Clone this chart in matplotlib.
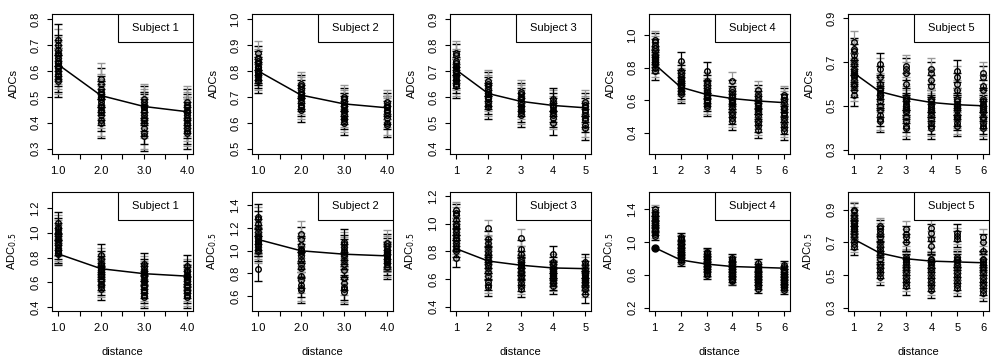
import matplotlib.pyplot as plt
from matplotlib.patches import Rectangle

plt.rcParams['font.family'] = ['Liberation Sans', 'DejaVu Sans']

# ---------- data: values ----------
# top row: ADCs, one list of point values per distance
adcs_1 = [
    [0.56, 0.57, 0.58, 0.59, 0.60, 0.61, 0.62, 0.62, 0.63, 0.63, 0.64, 0.65, 0.66, 0.67, 0.68, 0.70, 0.72],
    [0.40, 0.41, 0.43, 0.44, 0.45, 0.46, 0.47, 0.48, 0.49, 0.50, 0.50, 0.51, 0.52, 0.53, 0.55, 0.57],
    [0.35, 0.36, 0.38, 0.40, 0.41, 0.42, 0.43, 0.44, 0.45, 0.46, 0.46, 0.47, 0.48, 0.49],
    [0.36, 0.37, 0.38, 0.39, 0.40, 0.41, 0.42, 0.43, 0.44, 0.44, 0.45, 0.46, 0.47, 0.48],
]
adcs_2 = [
    [0.76, 0.77, 0.78, 0.79, 0.79, 0.80, 0.80, 0.81, 0.81, 0.82, 0.83, 0.84, 0.85, 0.87],
    [0.65, 0.66, 0.67, 0.68, 0.69, 0.70, 0.70, 0.71, 0.72, 0.73, 0.74, 0.75],
    [0.60, 0.61, 0.62, 0.63, 0.64, 0.65, 0.66, 0.67, 0.67, 0.68, 0.69, 0.70],
    [0.59, 0.60, 0.62, 0.63, 0.64, 0.65, 0.66, 0.66, 0.67, 0.68],
]
adcs_3 = [
    [0.64, 0.65, 0.66, 0.67, 0.68, 0.69, 0.70, 0.70, 0.71, 0.72, 0.73, 0.74, 0.76, 0.77],
    [0.56, 0.57, 0.58, 0.59, 0.60, 0.61, 0.61, 0.62, 0.63, 0.64, 0.65, 0.66],
    [0.53, 0.54, 0.55, 0.56, 0.57, 0.58, 0.59, 0.60, 0.61, 0.62],
    [0.50, 0.52, 0.53, 0.54, 0.55, 0.56, 0.57, 0.58, 0.59],
    [0.48, 0.49, 0.51, 0.52, 0.53, 0.54, 0.55, 0.56, 0.57, 0.58],
]
adcs_4 = [
    [0.78, 0.80, 0.82, 0.83, 0.84, 0.85, 0.86, 0.87, 0.88, 0.90, 0.92, 0.94, 0.96, 0.97],
    [0.64, 0.65, 0.66, 0.68, 0.69, 0.70, 0.71, 0.72, 0.73, 0.74, 0.76, 0.78, 0.84],
    [0.56, 0.57, 0.59, 0.60, 0.62, 0.63, 0.64, 0.65, 0.66, 0.68, 0.70, 0.72, 0.78],
    [0.47, 0.49, 0.51, 0.53, 0.55, 0.57, 0.58, 0.59, 0.60, 0.62, 0.63, 0.65, 0.67, 0.72],
    [0.42, 0.44, 0.46, 0.48, 0.50, 0.52, 0.54, 0.55, 0.57, 0.58, 0.60, 0.62, 0.64, 0.66],
    [0.41, 0.43, 0.45, 0.47, 0.49, 0.51, 0.52, 0.54, 0.55, 0.56, 0.58, 0.60, 0.62, 0.63],
]
adcs_5 = [
    [0.55, 0.57, 0.59, 0.60, 0.62, 0.63, 0.64, 0.65, 0.66, 0.67, 0.69, 0.71, 0.73, 0.75, 0.76, 0.79],
    [0.43, 0.44, 0.46, 0.48, 0.50, 0.52, 0.54, 0.55, 0.56, 0.57, 0.58, 0.60, 0.63, 0.67, 0.69],
    [0.40, 0.41, 0.43, 0.45, 0.47, 0.48, 0.49, 0.50, 0.51, 0.52, 0.53, 0.54, 0.60, 0.65, 0.67, 0.68],
    [0.40, 0.41, 0.42, 0.44, 0.46, 0.47, 0.48, 0.49, 0.50, 0.51, 0.52, 0.53, 0.59, 0.62, 0.65, 0.67],
    [0.41, 0.42, 0.44, 0.45, 0.46, 0.48, 0.49, 0.50, 0.51, 0.52, 0.53, 0.57, 0.60, 0.63, 0.66],
    [0.40, 0.41, 0.42, 0.44, 0.45, 0.47, 0.48, 0.49, 0.50, 0.51, 0.52, 0.53, 0.57, 0.59, 0.63, 0.65],
]

# bottom row: ADC0.5
adc05_1 = [
    [0.83, 0.84, 0.85, 0.86, 0.88, 0.90, 0.91, 0.93, 0.95, 0.97, 0.99, 1.01, 1.03, 1.05, 1.08],
    [0.55, 0.57, 0.59, 0.61, 0.63, 0.65, 0.67, 0.68, 0.70, 0.71, 0.72, 0.74, 0.76, 0.79, 0.82],
    [0.48, 0.50, 0.52, 0.54, 0.56, 0.58, 0.60, 0.62, 0.64, 0.66, 0.67, 0.68, 0.70, 0.72, 0.75],
    [0.48, 0.50, 0.52, 0.54, 0.56, 0.58, 0.60, 0.62, 0.63, 0.64, 0.65, 0.66, 0.68, 0.70, 0.73],
]
adc05_2 = [
    [0.84, 1.00, 1.02, 1.04, 1.06, 1.08, 1.09, 1.10, 1.12, 1.14, 1.17, 1.20, 1.24, 1.28, 1.30],
    [0.65, 0.67, 0.70, 0.74, 0.78, 0.85, 0.88, 0.92, 0.95, 0.98, 1.00, 1.01, 1.02, 1.05, 1.10, 1.15],
    [0.64, 0.66, 0.68, 0.72, 0.76, 0.83, 0.88, 0.92, 0.95, 0.97, 0.99, 1.01, 1.03, 1.06, 1.08],
    [0.86, 0.88, 0.90, 0.92, 0.93, 0.94, 0.95, 0.96, 0.97, 0.98, 1.00, 1.02, 1.04, 1.07],
]
adc05_3 = [
    [0.75, 0.80, 0.82, 0.84, 0.86, 0.88, 0.90, 0.92, 0.94, 0.96, 0.98, 1.00, 1.03, 1.06, 1.08, 1.10],
    [0.54, 0.56, 0.58, 0.62, 0.65, 0.68, 0.70, 0.72, 0.74, 0.76, 0.78, 0.80, 0.83, 0.86, 0.89, 0.97],
    [0.53, 0.55, 0.57, 0.60, 0.62, 0.64, 0.66, 0.68, 0.69, 0.70, 0.71, 0.72, 0.74, 0.78, 0.82, 0.90],
    [0.55, 0.57, 0.58, 0.60, 0.61, 0.62, 0.63, 0.64, 0.65, 0.66, 0.67, 0.68, 0.70, 0.72, 0.78],
    [0.49, 0.53, 0.55, 0.57, 0.58, 0.59, 0.60, 0.61, 0.62, 0.63, 0.64, 0.65, 0.67, 0.70, 0.72],
]
adc05_4 = [
    [1.07, 1.10, 1.13, 1.16, 1.18, 1.20, 1.22, 1.24, 1.26, 1.28, 1.31, 1.34, 1.37, 1.40],
    [0.76, 0.78, 0.80, 0.83, 0.85, 0.87, 0.89, 0.91, 0.93, 0.95, 0.97, 0.99, 1.02, 1.04, 1.06],
    [0.60, 0.62, 0.64, 0.66, 0.68, 0.70, 0.72, 0.74, 0.76, 0.78, 0.80, 0.82, 0.84, 0.86, 0.88],
    [0.52, 0.54, 0.56, 0.58, 0.60, 0.62, 0.64, 0.66, 0.68, 0.70, 0.72, 0.74, 0.76, 0.78, 0.80],
    [0.43, 0.46, 0.48, 0.50, 0.52, 0.54, 0.56, 0.58, 0.60, 0.62, 0.64, 0.66, 0.68, 0.71, 0.74],
    [0.42, 0.44, 0.46, 0.48, 0.50, 0.52, 0.54, 0.56, 0.58, 0.60, 0.62, 0.64, 0.66, 0.69, 0.72],
]
adc05_5 = [
    [0.67, 0.69, 0.71, 0.73, 0.75, 0.77, 0.78, 0.79, 0.80, 0.81, 0.82, 0.83, 0.85, 0.87, 0.89, 0.90],
    [0.49, 0.51, 0.53, 0.55, 0.57, 0.60, 0.62, 0.64, 0.66, 0.68, 0.70, 0.73, 0.75, 0.77, 0.79, 0.80],
    [0.43, 0.45, 0.47, 0.49, 0.51, 0.53, 0.55, 0.57, 0.58, 0.59, 0.60, 0.61, 0.70, 0.73, 0.75, 0.78],
    [0.41, 0.43, 0.45, 0.47, 0.49, 0.51, 0.53, 0.55, 0.57, 0.58, 0.59, 0.60, 0.68, 0.72, 0.76, 0.79],
    [0.42, 0.44, 0.46, 0.48, 0.50, 0.52, 0.54, 0.56, 0.58, 0.59, 0.60, 0.61, 0.72, 0.74, 0.76],
    [0.39, 0.41, 0.43, 0.45, 0.47, 0.49, 0.51, 0.53, 0.55, 0.57, 0.58, 0.59, 0.60, 0.65, 0.70, 0.73],
]

# fitted curves (the black line)
fit_adcs = [
    [0.625, 0.505, 0.463, 0.443],
    [0.800, 0.707, 0.673, 0.658],
    [0.705, 0.613, 0.583, 0.567, 0.558],
    [0.820, 0.680, 0.635, 0.610, 0.595, 0.585],
    [0.650, 0.565, 0.535, 0.515, 0.505, 0.500],
]
fit_adc05 = [
    [0.830, 0.710, 0.670, 0.650],
    [1.100, 1.000, 0.970, 0.955],
    [0.820, 0.730, 0.700, 0.680, 0.675],
    [0.930, 0.780, 0.730, 0.700, 0.690, 0.680],
    [0.720, 0.635, 0.600, 0.585, 0.580, 0.575],
]

# error bar half widths per panel
err_adcs = [0.06, 0.045, 0.045, 0.055, 0.05]
err_adc05 = [0.09, 0.11, 0.06, 0.05, 0.05]

subjects = ["Subject 1", "Subject 2", "Subject 3", "Subject 4", "Subject 5"]

ylim_adcs = [(0.28, 0.82), (0.48, 1.02), (0.38, 0.92), (0.27, 1.13), (0.28, 0.92)]
ylim_adc05 = [(0.37, 1.33), (0.47, 1.52), (0.37, 1.23), (0.16, 1.61), (0.28, 1.01)]
yticks_adcs = [[0.3, 0.4, 0.5, 0.6, 0.7, 0.8], [0.5, 0.6, 0.7, 0.8, 0.9, 1.0],
               [0.4, 0.5, 0.6, 0.7, 0.8, 0.9], [0.4, 0.6, 0.8, 1.0], [0.3, 0.5, 0.7, 0.9]]
yticks_adc05 = [[0.4, 0.6, 0.8, 1.0, 1.2], [0.6, 0.8, 1.0, 1.2, 1.4],
                [0.4, 0.6, 0.8, 1.0, 1.2], [0.2, 0.6, 1.0, 1.4], [0.3, 0.5, 0.7, 0.9]]

# ---------- drawing ----------
fig = plt.figure(figsize=(10, 3.64), dpi=100)

lefts = [0.052, 0.252, 0.450, 0.649, 0.848]
w = 0.141
rows = [
    dict(bottom=0.577, height=0.385, data=[adcs_1, adcs_2, adcs_3, adcs_4, adcs_5],
         fit=fit_adcs, err=err_adcs, ylim=ylim_adcs, yticks=yticks_adcs,
         ylabel="ADCs", xlabel=None),
    dict(bottom=0.146, height=0.327, data=[adc05_1, adc05_2, adc05_3, adc05_4, adc05_5],
         fit=fit_adc05, err=err_adc05, ylim=ylim_adc05, yticks=yticks_adc05,
         ylabel="ADC$_{0.5}$", xlabel="distance"),
]

fs = 8
for row in rows:
    for i in range(5):
        ax = fig.add_axes([lefts[i], row["bottom"], w, row["height"]])
        groups = row["data"][i]
        err = row["err"][i]
        for d, vals in enumerate(groups):
            x = d + 1
            for k, v in enumerate(vals):
                col = "0.6" if k % 2 else "black"
                ax.errorbar([x], [v], yerr=err, fmt="o", ms=4.0, mfc="none",
                            mec="black", mew=1.0, ecolor=col, elinewidth=0.9,
                            capsize=2.8, capthick=0.9, zorder=2)
        xs = list(range(1, len(groups) + 1))
        ax.plot(xs, row["fit"][i], color="black", lw=1.1, zorder=3)
        if row["xlabel"] and i == 3:
            ax.plot([1], [row["fit"][i][0]], "o", color="black", ms=5, zorder=4)

        n = len(groups)
        ax.set_xlim(1 - 0.04 * (n - 1) - 0.02, n + 0.04 * (n - 1) + 0.02)
        ax.set_ylim(*row["ylim"][i])
        if n == 4:
            ax.set_xticks([1, 1.5, 2, 2.5, 3, 3.5, 4])
            ax.set_xticklabels(["1.0", "", "2.0", "", "3.0", "", "4.0"])
        else:
            ax.set_xticks(xs)
            ax.set_xticklabels([str(v) for v in xs])
        yt = row["yticks"][i]
        ax.set_yticks(yt)
        ax.set_yticklabels([f"{v:.1f}" for v in yt], rotation=90, va="center")
        ax.tick_params(direction="out", length=3.5, width=0.8, labelsize=fs, pad=5)
        for s in ax.spines.values():
            s.set_linewidth(0.8)
        ax.set_ylabel(row["ylabel"], fontsize=fs, labelpad=8)
        if row["xlabel"]:
            ax.set_xlabel(row["xlabel"], fontsize=fs, labelpad=10)

        # legend box in the top right corner
        box_h = 28.0 / (row["height"] * 364)
        ax.add_patch(Rectangle((0.47, 1 - box_h), 0.53, box_h, transform=ax.transAxes,
                               facecolor="white", edgecolor="black", lw=0.8, zorder=5))
        ax.text(0.735, 1 - box_h / 2, subjects[i], transform=ax.transAxes,
                ha="center", va="center", fontsize=fs, zorder=6)

fig.savefig("out.png", dpi=100)
